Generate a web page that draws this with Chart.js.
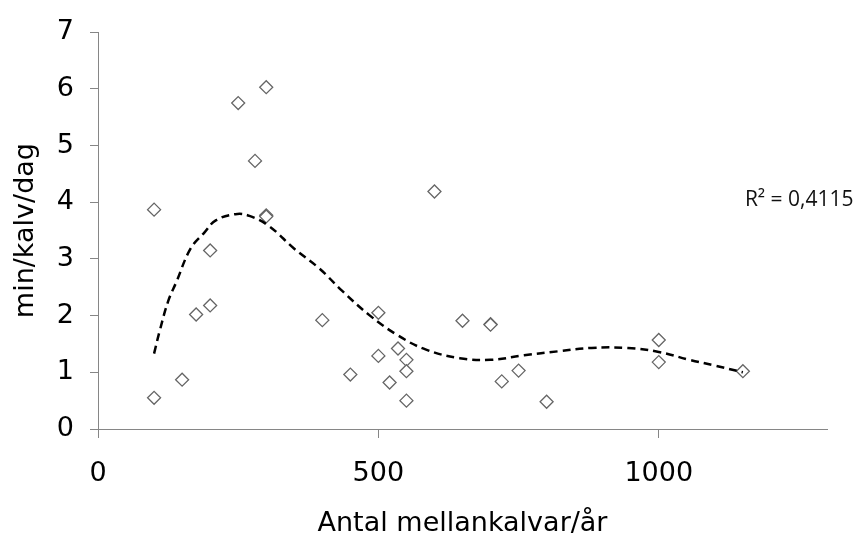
<!DOCTYPE html>
<html>
<head>
<meta charset="utf-8">
<script src="https://cdn.jsdelivr.net/npm/chart.js@4"></script>
<style>
  html, body { margin: 0; padding: 0; background: #fff; }
  #wrap { width: 859px; height: 537px; }
</style>
</head>
<body>
<div id="wrap"><canvas id="scatterChart"></canvas></div>
<script>
// antal mellankalvar per år (x) och min/kalv/dag (y)
const antal = [100, 100, 150, 175, 200, 200, 250, 280, 300, 300, 300, 400, 450, 500, 500,
               520, 535, 550, 550, 550, 600, 650, 700, 700, 720, 750, 800, 1000, 1000, 1150];
const minPerKalv = [0.55, 3.87, 0.87, 2.02, 2.18, 3.15, 5.75, 4.73, 6.03, 3.77, 3.75, 1.92, 0.96, 2.05, 1.29,
                    0.82, 1.42, 1.22, 1.02, 0.50, 4.19, 1.91, 1.85, 1.84, 0.84, 1.03, 0.48, 1.57, 1.18, 1.02];

// trendlinje (polynom)
const trendX = [100, 110, 125, 140, 165, 190, 210, 245, 270, 305, 350, 395, 435, 485, 535,
                585, 645, 700, 760, 820, 880, 945, 1000, 1055, 1100, 1150];
const trendY = [1.33, 1.73, 2.25, 2.60, 3.18, 3.47, 3.68, 3.79, 3.76, 3.58, 3.18, 2.83, 2.44, 2.00, 1.65,
                1.40, 1.25, 1.22, 1.30, 1.37, 1.43, 1.43, 1.36, 1.22, 1.12, 1.00];

const xTicks = [0, 500, 1000];
const yTicks = [0, 1, 2, 3, 4, 5, 6, 7];
const r2Label = 'R² = 0,4115';

const axisColor = '#868686';
const fontFam = '"DejaVu Sans", Verdana, sans-serif';

const points = antal.map((x, i) => ({ x: x, y: minPerKalv[i] }));
const trend = trendX.map((x, i) => ({ x: x, y: trendY[i] }));

const r2Plugin = {
    id: 'r2Text',
    afterDatasetsDraw(chart) {
        const ctx = chart.ctx;
        const xs = chart.scales.x;
        const ys = chart.scales.y;
        ctx.save();
        ctx.font = '21px "Open Sans", Lato, sans-serif';
        ctx.fillStyle = '#111';
        ctx.textAlign = 'left';
        ctx.textBaseline = 'middle';
        ctx.fillText(r2Label, xs.getPixelForValue(1150) + 2, ys.getPixelForValue(4) - 2);
        ctx.restore();
    }
};

new Chart(document.getElementById('scatterChart'), {
    type: 'scatter',
    data: {
        datasets: [
            {
                label: 'min/kalv/dag',
                data: points,
                pointStyle: 'rectRot',
                pointRadius: 6.5,
                pointHoverRadius: 6.5,
                pointBackgroundColor: '#fff',
                pointBorderColor: '#666',
                pointBorderWidth: 1.3,
                order: 2
            },
            {
                label: 'Trend',
                data: trend,
                showLine: true,
                pointRadius: 0,
                borderColor: '#000',
                borderWidth: 2.5,
                borderDash: [8, 5],
                tension: 0.4,
                fill: false,
                order: 1
            }
        ]
    },
    options: {
        responsive: true,
        maintainAspectRatio: false,
        animation: false,
        layout: { padding: { top: 24, right: 32, left: 0, bottom: 0 } },
        plugins: {
            legend: { display: false },
            tooltip: { enabled: false }
        },
        scales: {
            x: {
                type: 'linear',
                min: 0,
                max: 1300,
                afterBuildTicks: (s) => { s.ticks = xTicks.map(v => ({ value: v })); },
                afterFit: (s) => { s.height = 108; },
                ticks: {
                    color: '#000',
                    font: { family: fontFam, size: 27 },
                    padding: 20,
                    callback: (v) => String(v)
                },
                grid: { drawOnChartArea: false, drawTicks: true, tickLength: 9, color: axisColor },
                border: { color: axisColor, width: 1 },
                title: {
                    display: true,
                    text: 'Antal mellankalvar/år',
                    color: '#000',
                    font: { family: fontFam, size: 27, lineHeight: 1.0 },
                    padding: { top: 0, bottom: 0 }
                }
            },
            y: {
                min: 0,
                max: 7,
                afterBuildTicks: (s) => { s.ticks = yTicks.map(v => ({ value: v })); },
                afterFit: (s) => { s.width = 98; },
                ticks: { color: '#000', font: { family: fontFam, size: 27 }, padding: 16 },
                grid: { drawOnChartArea: false, drawTicks: true, tickLength: 8, color: axisColor },
                border: { color: axisColor, width: 1 },
                title: {
                    display: true,
                    text: 'min/kalv/dag',
                    color: '#000',
                    font: { family: fontFam, size: 27, lineHeight: 1.0 },
                    padding: { top: 12, bottom: 0 }
                }
            }
        }
    },
    plugins: [r2Plugin]
});
</script>
</body>
</html>
